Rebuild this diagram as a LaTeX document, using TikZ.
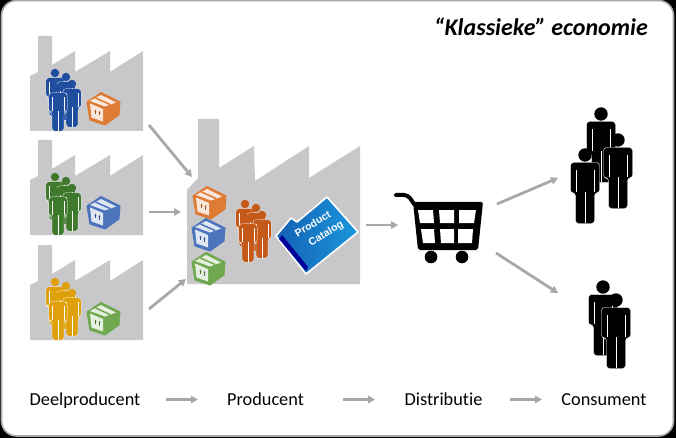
\documentclass[tikz,border=0pt]{standalone}
\usepackage{fontspec}
\setmainfont[Ligatures=NoCommon]{Carlito}
\newfontfamily\catfont{Liberation Sans}
\usetikzlibrary{arrows.meta}
\definecolor{fgray}{HTML}{C8C8CA}
\definecolor{arrowgray}{HTML}{A8A8A8}
\definecolor{pblue}{HTML}{1F4E9E}
\definecolor{pgreen}{HTML}{3F7A2C}
\definecolor{pyellow}{HTML}{E0A00C}
\definecolor{porange}{HTML}{C4591A}
\definecolor{borange}{HTML}{DE7B35}
\definecolor{bblue}{HTML}{4B74BC}
\definecolor{bgreen}{HTML}{70A850}
\definecolor{catdark}{HTML}{1560B4}
\definecolor{catlight}{HTML}{1A98DC}
\newcommand{\plw}{.4pt}
\tikzset{
  flow/.style={draw=arrowgray,line width=2.8pt,-{Triangle[length=7pt,width=7.5pt]}},
  label/.style={font=\fontsize{18.3}{20}\selectfont,text=black,inner sep=0pt,anchor=base},
  cattext/.style={rotate=31,text=white,align=center,font=\catfont\bfseries\fontsize{10.5}{14.5}\selectfont,inner sep=0pt},
  pics/person/.style={code={
    \fill[#1] (0,0) circle (6.7);
    \filldraw[fill=#1,draw=white,line width=\plw,rounded corners=3pt]
      (-14.5,7.5)--(14.5,7.5)--(14.5,38)--(9.5,38)--(9.5,68.5)--(-9.5,68.5)--(-9.5,38)--(-14.5,38)--cycle;
    \draw[white,line width=\plw] (-9.2,15)--(-9.2,37) (9.2,15)--(9.2,37) (0,37)--(0,68);
  }},
  pics/crowd/.style={code={
    \renewcommand{\plw}{.25pt}
    \pic[scale=.63] at (-3,-15) {person=#1};
    \pic[scale=.63] at (8,-11) {person=#1};
    \pic[scale=.63] at (14,-4) {person=#1};
    \pic[scale=.63] at (0,0) {person=#1};
  }},
  pics/crate/.style={code={
    \filldraw[fill=#1,draw=#1,line width=1pt,line join=round]
      (-2,-15.5)--(17,-6)--(16,7)--(2,17)--(-13,12)--(-16,-6)--cycle;
    \fill[#1!18!white] (-2,-13)--(13,-5.5)--(2,-1.5)--(-13,-7)--cycle;
    \fill[#1!18!white] (-13,-4.5)--(0,1)--(0,13.5)--(-11.5,9.5)--cycle;
    \draw[#1,line width=1.5pt] (-7.5,-10)--(7,-3.5);
    \draw[#1!70!black,line width=.6pt,-{Latex[length=2pt,width=2pt]}] (-7.5,6)--(-7.5,1.5);
    \draw[#1!70!black,line width=.6pt,-{Latex[length=2pt,width=2pt]}] (-3.5,7.5)--(-3.5,3);
  }},
  pics/smallfactory/.style={code={
    \fill[fgray] (30,131)--(30,76)--(38,72)--(38,36)--(52,36)--(52,65)--(75,51)--(75,72)--(110,51)--(110,72)--(143,51)--(143,131)--cycle;
  }}
}
\begin{document}
\begin{tikzpicture}[x=1pt,y=-1pt]
\useasboundingbox (0,0) rectangle (676,438);
\fill[black] (0,0) rectangle (676,438);
\filldraw[fill=white,draw=gray!70,line width=1.6pt,rounded corners=15pt] (1.5,.5) rectangle (673.5,436);
% factories
\pic at (0,0) {smallfactory};
\pic at (0,104) {smallfactory};
\pic at (0,209) {smallfactory};
\fill[fgray] (187,284)--(187,190)--(198,178)--(198,119)--(219,119)--(219,168)--(254,146)--(255,181)--(309,146)--(309,178)--(360,146)--(360,284)--cycle;
% small factory contents
\pic at (58,88) {crowd=pblue};
\pic at (103,108) {crate=borange};
\pic at (58,192) {crowd=pgreen};
\pic at (103,212) {crate=bblue};
\pic at (58,297) {crowd=pyellow};
\pic at (103,318) {crate=bgreen};
% big factory contents
\pic at (209,202) {crate=borange};
\pic at (208,234) {crate=bblue};
\pic at (208,268) {crate=bgreen};
\pic at (248,219) {crowd=porange};
% catalog folder
\filldraw[draw=white,line width=1.6pt,left color=catdark,right color=catlight,line join=round]
  (276,236)--(291,218)--(297,222)--(327,197)--(358,232)--(306,274)--cycle;
\fill[blue!60!black] (279,239)--(282,235)--(308,267)--(306,271)--cycle;
\node[cattext] (prod) at (317,231) {Product\\\hspace*{13pt}Catalog};
% cart
\draw[black,line width=4pt,line cap=round,rounded corners=4pt] (396,195)--(408,195)--(414,204);
\fill[black,rounded corners=2pt] (413,202)--(483,202)--(478,250)--(418,250)--cycle;
\fill[white] (418,210)--(433,210)--(434,223)--(420,223)--cycle;
\fill[white] (439,210)--(454,210)--(454,223)--(440,223)--cycle;
\fill[white] (459,210)--(476,210)--(474,223)--(459,223)--cycle;
\fill[white] (421,229)--(434,229)--(435,243)--(423,243)--cycle;
\fill[white] (440,229)--(454,229)--(454,243)--(441,243)--cycle;
\fill[white] (458,229)--(473,229)--(472,243)--(458,243)--cycle;
\fill[black] (431,257) circle (6.3) (462,257) circle (6.3);
% consumers
\pic at (601,114) {person=black};
\pic at (618,140) {person=black};
\pic at (585,155) {person=black};
\pic at (603,287) {person=black};
\pic at (616,300) {person=black};
% flow coordinates
\coordinate (a1) at (149,125); \coordinate (b1) at (192,177);
\coordinate (a2) at (149,212); \coordinate (b2) at (181,212);
\coordinate (a3) at (149,309); \coordinate (b3) at (186,279);
\coordinate (a4) at (366,225); \coordinate (b4) at (398,225);
\coordinate (a5) at (497,204); \coordinate (b5) at (558,178);
\coordinate (a6) at (496,253); \coordinate (b6) at (558,293);
\coordinate (a7) at (166,399.5); \coordinate (b7) at (198,399.5);
\coordinate (a8) at (343,399.5); \coordinate (b8) at (375,399.5);
\coordinate (a9) at (510,399.5); \coordinate (b9) at (542,399.5);
\foreach \u/\v in {a1/b1,a2/b2,a3/b3,a4/b4,a5/b5,a6/b6,a7/b7,a8/b8,a9/b9}
  \draw[flow] (\u)--(\v);
% labels
\node[inner sep=0pt,anchor=east,font=\bfseries\itshape\fontsize{24}{26}\selectfont] (title) at (648,27) {“Klassieke” economie};
\node[label] (deel) at (85,405.5) {Deelproducent};
\node[label] (prodc) at (265.5,405.5) {Producent};
\node[label] (dist) at (443.5,405.5) {Distributie};
\node[label] (cons) at (604,405.5) {Consument};
\end{tikzpicture}
\end{document}
